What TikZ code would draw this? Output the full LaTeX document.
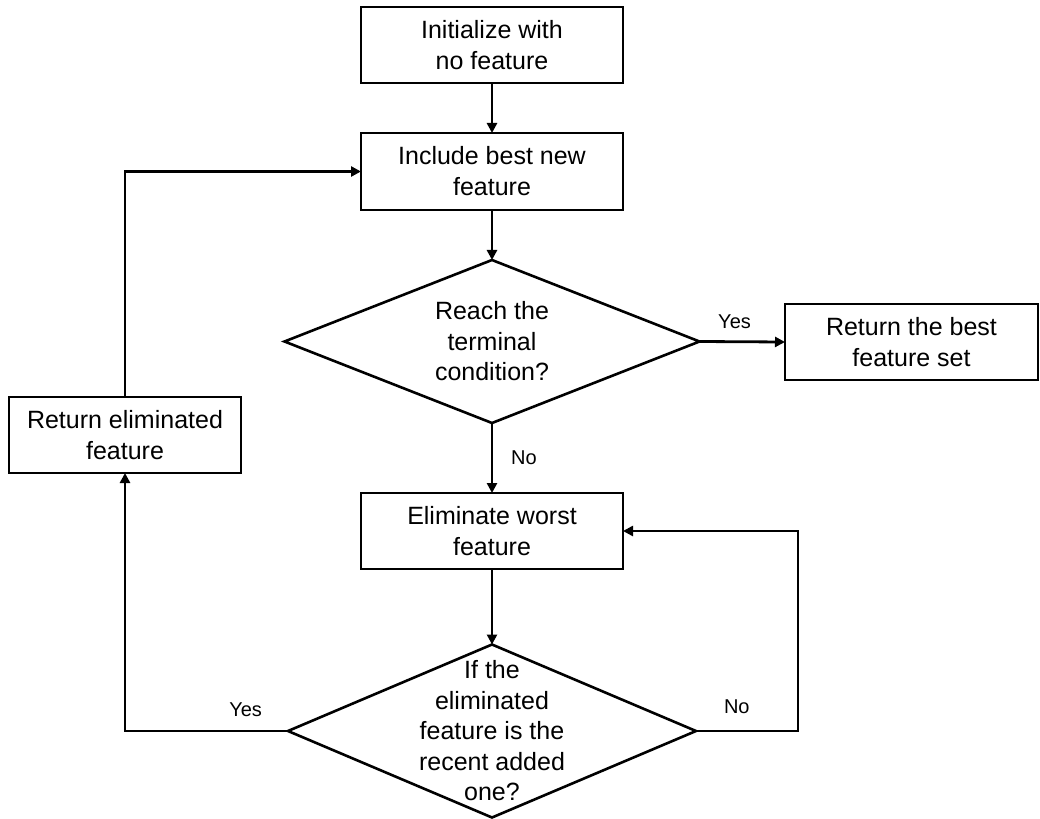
\documentclass[tikz,border=0pt]{standalone}
\usepackage{fontspec}
\setmainfont{Liberation Sans}
\usetikzlibrary{arrows.meta,shapes.geometric}
\begin{document}
\begin{tikzpicture}[x=1bp,y=-1bp,
  every node/.style={inner sep=0pt, outer sep=0pt},
  stepbox/.style={draw, line width=2.8bp, rectangle, align=center,
    font=\fontsize{25bp}{31bp}\selectfont},
  decision/.style={draw, line width=2.6bp, diamond},
  dtext/.style={align=center, font=\fontsize{25bp}{30.5bp}\selectfont},
  lab/.style={font=\fontsize{20bp}{24bp}\selectfont},
  arr/.style={line width=2.8bp, -{Triangle[length=10bp,width=10bp]}}]
\useasboundingbox (0,0) rectangle (1040,819);

% process steps
\node[stepbox, minimum width=262bp, minimum height=76bp] (init) at (492,45)
  {Initialize with\\no feature};
\node[stepbox, minimum width=262bp, minimum height=77bp] (incl) at (492,171.5)
  {Include best new\\feature};
\node[stepbox, minimum width=253bp, minimum height=76bp] (best) at (911.5,342)
  {Return the best\\feature set};
\node[stepbox, minimum width=232bp, minimum height=76bp] (ret) at (125,435)
  {Return eliminated\\feature};
\node[stepbox, minimum width=262bp, minimum height=76bp] (elim) at (492,531)
  {Eliminate worst\\feature};

% decisions
\node[decision, minimum width=415bp, minimum height=163bp] (term) at (492,341.5) {};
\node[dtext] at (term) {Reach the\\terminal\\condition?};
\node[decision, minimum width=408bp, minimum height=173bp] (check) at (492,731) {};
\node[dtext] at (check) {If the\\eliminated\\feature is the\\recent added\\one?};

\coordinate (rloop) at (798,731);

% connectors
\draw[arr] (init) -- (incl);
\draw[arr] (incl) -- (term);
\draw[arr] (term.east) -- (best.west)
  node[lab, pos=0.41, yshift=20bp] {Yes};
\draw[arr] (term.south) -- (elim.north)
  node[lab, midway, xshift=32bp] {No};
\draw[arr] (elim) -- (check);
\draw[arr] (check.west) -| (ret.south)
  node[lab, pos=0.13, yshift=21bp] {Yes};
\draw[arr] (ret.north) |- (incl.west);
\draw[arr] (check.east) -- (rloop)
  node[lab, pos=0.4, yshift=24bp] {No}
  |- (elim.east);
\end{tikzpicture}
\end{document}
